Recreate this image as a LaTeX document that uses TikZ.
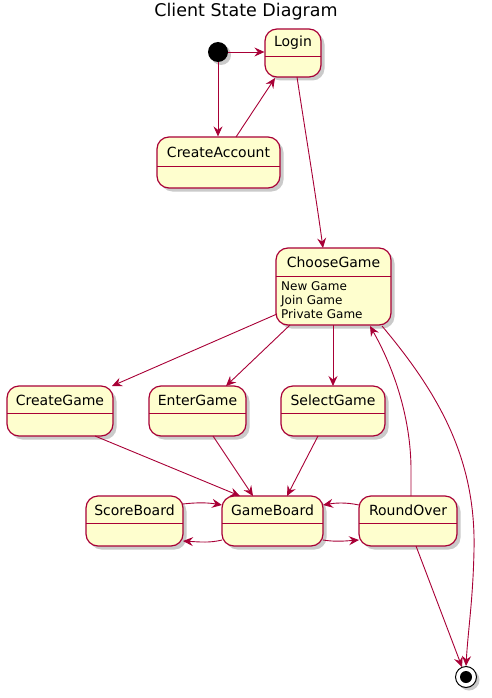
\documentclass[tikz,border=0pt]{standalone}
\usepackage{fontspec}
\setmainfont{DejaVu Sans}
\usetikzlibrary{arrows.meta,shadows}
\definecolor{sfill}{HTML}{FEFECE}
\definecolor{sline}{HTML}{A80036}
\tikzset{
  stbox/.style={draw=sline,fill=sfill,line width=1.2pt,rounded corners=12pt,
    drop shadow={shadow xshift=3.5pt,shadow yshift=-3.5pt,opacity=0.35,fill=black!60},
    inner sep=0pt},
  sname/.style={font=\fontsize{14}{16}\selectfont,anchor=center,inner sep=0pt},
  sdesc/.style={font=\fontsize{12}{14}\selectfont,anchor=north west,align=left,inner sep=0pt},
  sep/.style={draw=sline,line width=0.9pt},
  tr/.style={draw=sline,line width=0.9pt,-{Stealth[length=10pt,width=9pt,inset=3.5pt]}},
}
% \mystate{name}{x1}{y1}{x2}{y2}{sepy}{label}
\newcommand{\mystate}[7]{%
  \node[stbox,minimum width={#4-#2},minimum height={#5-#3}] (#1) at ({(#2+#4)/2},{(#3+#5)/2}) {};
  \draw[sep] (#2,#6) -- (#4,#6);
  \node[sname] (#1-t) at ({(#2+#4)/2},{(#3+#6)/2+0.5}) {#7};
}
\begin{document}
\begin{tikzpicture}[x=1pt,y=-1pt]
\useasboundingbox (0,0) rectangle (492,698);
\node[font=\fontsize{17.5}{20}\selectfont] (title) at (246,12) {Client State Diagram};

% initial
\node[circle,fill=black,minimum size=20pt,inner sep=0pt,
  drop shadow={shadow xshift=3pt,shadow yshift=-3pt,opacity=0.35,fill=black!60}] (init) at (218,52) {};

\mystate{login}{265}{29}{321}{77}{56}{Login}
\mystate{ca}{157}{137}{280}{188}{166}{CreateAccount}
\mystate{cg}{276}{248}{391}{325}{276}{ChooseGame}
\node[sdesc] (cgd) at (281,281.5) {New Game\\Join Game\\Private Game};
\mystate{crg}{7}{386}{113}{436}{413}{CreateGame}
\mystate{eg}{149}{386}{246}{436}{413}{EnterGame}
\mystate{sg}{281}{386}{385}{436}{413}{SelectGame}
\mystate{sb}{86}{496}{183}{546}{523}{ScoreBoard}
\mystate{gb}{222}{496}{323}{546}{523}{GameBoard}
\mystate{ro}{359}{496}{457}{546}{523}{RoundOver}

% final
\node[circle,draw=black,fill=white,line width=1pt,minimum size=21pt,inner sep=0pt,
  drop shadow={shadow xshift=3pt,shadow yshift=-3pt,opacity=0.35,fill=black!60}] (fin) at (466,677) {};
\node[circle,fill=black,minimum size=12pt,inner sep=0pt] (fini) at (fin) {};

\draw[tr] (init.east) -- (login.west |- init.east);
\draw[tr] (init.south) -- (ca.north -| init.south);
\draw[tr] (236,137) -- (275,78);
\draw[tr] (297,77) .. controls (305,130) and (315,190) .. (323,248);

\draw[tr] (277,314) -- (112,386);
\draw[tr] (290,325) -- (226,386);
\draw[tr] (333,325) -- (333,386);
\draw[tr] (382,326) .. controls (440,395) and (476,460) .. (474,550)
  .. controls (473,600) and (468,630) .. (466,666);
\draw[tr] (411,496) -- (411,470) .. controls (411,420) and (395,370) .. (370,326);

\draw[tr] (95,436) -- (240,496);
\draw[tr] (213,436) -- (253,496);
\draw[tr] (318,436) -- (287,496);

\draw[tr] (183,504) .. controls (200,502) and (210,503) .. (222,505);
\draw[tr] (222,540) .. controls (210,543) and (200,542) .. (183,541);
\draw[tr] (323,540) .. controls (335,542) and (345,541) .. (359,540);
\draw[tr] (359,505) .. controls (345,502) and (335,503) .. (323,505);
\draw[tr] (416,546) -- (462,667);
\end{tikzpicture}
\end{document}
